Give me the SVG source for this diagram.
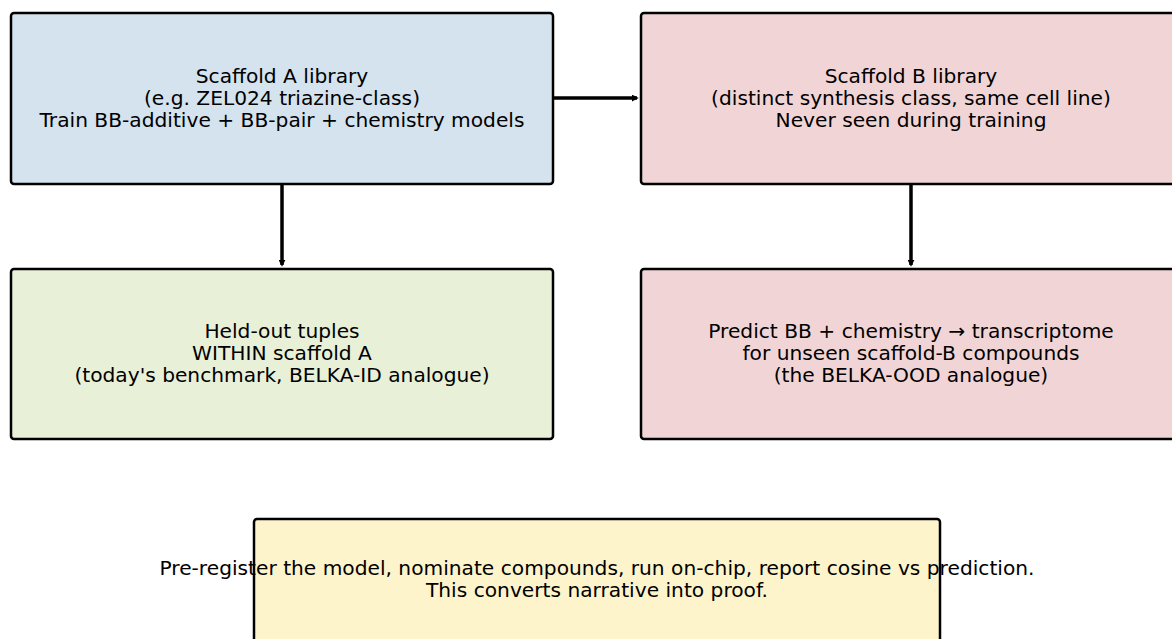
<svg xmlns="http://www.w3.org/2000/svg" width="1172" height="639" viewBox="0 0 1172 639">
<style>
.box{stroke:#000;stroke-width:2.5}
.t{font-family:"DejaVu Sans",sans-serif;font-size:20.2px;fill:#000;text-anchor:middle}
.c{stroke:#000;stroke-width:3.5;fill:none;marker-end:url(#ah)}
</style>
<defs>
<marker id="ah" viewBox="0 0 4 4" refX="3" refY="2" markerWidth="2" markerHeight="2" orient="auto" markerUnits="strokeWidth">
<path d="M0,0 L4,2 L0,4 z" fill="#000"/>
</marker>
</defs>
<rect width="1172" height="639" fill="#fff"/>
<g id="connectors">
<path class="c" d="M553,98 H637"/>
<path class="c" d="M282,184 V265"/>
<path class="c" d="M911,184 V265"/>
</g>
<g id="scaffoldA">
<rect class="box" x="11" y="13" width="542" height="171" rx="3" fill="#d5e3ef"/>
<text class="t" x="282" y="83">Scaffold A library</text>
<text class="t" x="282" y="105">(e.g. ZEL024 triazine-class)</text>
<text class="t" x="282" y="127">Train BB-additive + BB-pair + chemistry models</text>
</g>
<g id="scaffoldB">
<rect class="box" x="641" y="13" width="540" height="171" rx="3" fill="#f1d5d6"/>
<text class="t" x="911" y="83">Scaffold B library</text>
<text class="t" x="911" y="105">(distinct synthesis class, same cell line)</text>
<text class="t" x="911" y="127">Never seen during training</text>
</g>
<g id="heldout">
<rect class="box" x="11" y="269" width="542" height="170" rx="3" fill="#e8f0d8"/>
<text class="t" x="282" y="338">Held-out tuples</text>
<text class="t" x="282" y="360">WITHIN scaffold A</text>
<text class="t" x="282" y="382">(today's benchmark, BELKA-ID analogue)</text>
</g>
<g id="predict">
<rect class="box" x="641" y="269" width="540" height="170" rx="3" fill="#f1d5d6"/>
<text class="t" x="911" y="338">Predict BB + chemistry → transcriptome</text>
<text class="t" x="911" y="360">for unseen scaffold-B compounds</text>
<text class="t" x="911" y="382">(the BELKA-OOD analogue)</text>
</g>
<g id="preregister">
<rect class="box" x="254" y="519" width="686" height="140" rx="3" fill="#fef4cc"/>
<text class="t" x="597" y="575">Pre-register the model, nominate compounds, run on-chip, report cosine vs prediction.</text>
<text class="t" x="597" y="597">This converts narrative into proof.</text>
</g>
</svg>
